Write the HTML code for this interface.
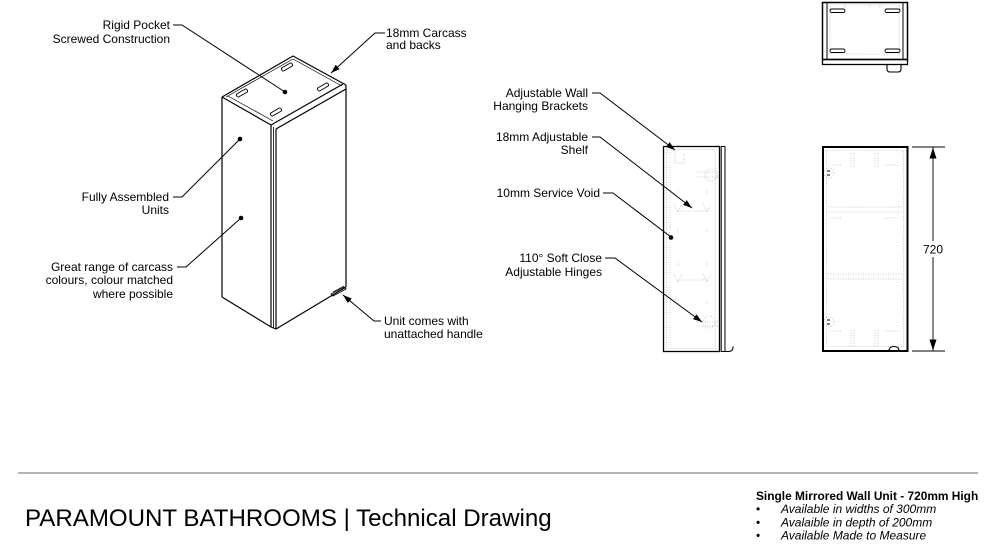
<!DOCTYPE html>
<html>
<head>
<meta charset="utf-8">
<style>
html,body{margin:0;padding:0;background:#fff;}
svg{display:block;}
text{font-family:"Liberation Sans",Arial,sans-serif;font-size:12px;fill:#000;}
</style>
</head>
<body>
<svg width="1000" height="547" viewBox="0 0 1000 547" xmlns="http://www.w3.org/2000/svg">
<defs>
<marker id="ar" markerWidth="9" markerHeight="6" refX="9" refY="3" orient="auto" markerUnits="userSpaceOnUse">
<path d="M0,0 L9,3 L0,6 z" fill="#000"/>
</marker>
<marker id="dimA" markerWidth="11" markerHeight="7" refX="11" refY="3.5" orient="auto" markerUnits="userSpaceOnUse">
<path d="M0,0 L11,3.5 L0,7 z" fill="#000"/>
</marker>
</defs>
<rect width="1000" height="547" fill="#fff"/>

<!-- ===== Isometric cabinet ===== -->
<g stroke="#000" stroke-width="1.2" fill="none" stroke-linejoin="round">
  <path d="M222,97 L293,56 L346,85"/>
  <path d="M226,97 L293,59 L342,86" stroke-width="0.7"/>
  <path d="M222,97 L271,125"/>
  <path d="M228,96 L273,121" stroke-width="0.7"/>
  <path d="M271,125 L343,84"/>
  <path d="M276,129 L346,89"/>
  <path d="M222,97 V297"/>
  <path d="M346,85 V287"/>
  <path d="M271,125 V327"/>
  <path d="M273.5,127 V328" stroke-width="0.8"/>
  <path d="M276,129 V329"/>
  <path d="M222,297 L271,327 L276,329 L346,287"/>
  <path d="M331,294 L344,287 L346,289 L333,296 z" stroke-width="0.9"/>
  <path d="M333,292 L344,286" stroke-width="0.7"/>
</g>
<g stroke="#000" stroke-width="0.9" fill="#fff">
  <rect x="-6" y="-1.8" width="12" height="3.6" rx="1.6" transform="translate(287,67) rotate(-30)"/>
  <rect x="-6" y="-1.8" width="12" height="3.6" rx="1.6" transform="translate(242,93) rotate(-30)"/>
  <rect x="-6" y="-1.8" width="12" height="3.6" rx="1.6" transform="translate(323,87) rotate(-30)"/>
  <rect x="-6" y="-1.8" width="12" height="3.6" rx="1.6" transform="translate(276,112) rotate(-30)"/>
</g>

<!-- ===== leaders left ===== -->
<g stroke="#000" stroke-width="1" fill="none">
  <path d="M173,25 H182 L285,92"/>
  <path d="M385,33 H375 L331,73" marker-end="url(#ar)"/>
  <path d="M173,197 H182 L240,139"/>
  <path d="M177,267 H186 L241,218"/>
  <path d="M381,321 H374 L343,295" marker-end="url(#ar)"/>
</g>
<g fill="#000">
  <circle cx="285" cy="92" r="2.3"/>
  <circle cx="240" cy="139" r="2.3"/>
  <circle cx="241" cy="218" r="2.3"/>
</g>

<g text-anchor="end">
  <text x="170" y="29">Rigid Pocket</text>
  <text x="170" y="43">Screwed Construction</text>
  <text x="169" y="201">Fully Assembled</text>
  <text x="169" y="214">Units</text>
  <text x="173" y="271">Great range of carcass</text>
  <text x="173" y="284">colours, colour matched</text>
  <text x="173" y="298">where possible</text>
</g>
<text x="386" y="37">18mm Carcass</text>
<text x="386" y="49">and backs</text>
<text x="384" y="325">Unit comes with</text>
<text x="384" y="338">unattached handle</text>

<!-- ===== Side view ===== -->
<g stroke="#bbb" stroke-width="0.8" fill="none" stroke-dasharray="1 1.5">
  <rect x="666.5" y="149.5" width="49" height="199"/>
  <path d="M670,152 V345"/>
  <path d="M675,150 V163 H684 V154"/>
  <path d="M697,172 H718 M697,177 H718 M697,322 H718 M697,326 H718"/>
  <circle cx="711" cy="175" r="6"/>
  <circle cx="709" cy="322" r="6"/>
  <path d="M678,211 H708 M678,280 H708"/>
  <path d="M674,204 L678,212 L682,204 M703,204 L707,212 L711,204"/>
  <path d="M674,274 L678,282 L682,274 M703,274 L707,282 L711,274"/>
  <path d="M678,190 V194 M707,190 V194 M678,228 V232 M707,228 V232 M678,262 V266 M707,262 V266 M707,300 V304 M678,300 V304"/>
</g>
<g stroke="#000" fill="none">
  <rect x="663.5" y="146.5" width="56" height="205" stroke-width="1.3"/>
  <rect x="721.2" y="146.5" width="3.8" height="205" stroke-width="1"/>
  <path d="M724,351.5 H729 Q733,351.5 733,346.5" stroke-width="1.1"/>
</g>

<g stroke="#000" stroke-width="1" fill="none">
  <path d="M592,93 H600 L675,150" marker-end="url(#ar)"/>
  <path d="M592,137 H600 L692,208" marker-end="url(#ar)"/>
  <path d="M603,193 H613 L671,237"/>
  <path d="M605,258 H615 L702,322" marker-end="url(#ar)"/>
</g>
<circle cx="671" cy="237.5" r="2.3" fill="#000"/>
<g text-anchor="end">
  <text x="588" y="97">Adjustable Wall</text>
  <text x="588" y="110">Hanging Brackets</text>
  <text x="588" y="141">18mm Adjustable</text>
  <text x="588" y="154">Shelf</text>
  <text x="600" y="197">10mm Service Void</text>
  <text x="602" y="262">110° Soft Close</text>
  <text x="602" y="276">Adjustable Hinges</text>
</g>

<!-- ===== Top view ===== -->
<g stroke="#bbb" stroke-width="0.8" fill="none" stroke-dasharray="1 1.5">
  <path d="M829,5 H900 M829,54 H900"/>
  <path d="M830,6 V56 M899,6 V56"/>
  <path d="M845,4 V8 M870,4 V8 M880,4 V8"/>
</g>
<g stroke="#000" fill="none">
  <rect x="822.5" y="2.5" width="85" height="57" stroke-width="1.5"/>
  <path d="M827,2.5 V59.5 M903,2.5 V59.5" stroke-width="1"/>
  <rect x="822.5" y="59.5" width="85" height="5" stroke-width="1.3"/>
  <path d="M887,64.5 V69 Q887,72 890,72 H898 Q901,72 901,69 V64.5" stroke-width="1.1"/>
</g>
<g stroke="#000" stroke-width="0.9" fill="#fff">
  <rect x="830" y="9" width="15" height="3.5" rx="1.7"/>
  <rect x="885" y="9" width="15" height="3.5" rx="1.7"/>
  <rect x="830" y="49" width="15" height="3.5" rx="1.7"/>
  <rect x="885" y="49" width="15" height="3.5" rx="1.7"/>
</g>

<!-- ===== Front view ===== -->
<g stroke="#bbb" stroke-width="0.8" fill="none" stroke-dasharray="1 1.5">
  <rect x="826.5" y="150.5" width="77" height="196"/>
  <path d="M828,207 H903 M828,212 H903 M828,274 H903 M828,279 H903"/>
  <path d="M851,153 V168 M854,153 V168 M875,153 V168 M878,153 V168"/>
  <path d="M851,330 V346 M854,330 V346 M875,330 V346 M878,330 V346"/>
  <path d="M830,165 H842 M885,165 H900 M830,218 H842 M885,218 H900 M830,331 H842 M885,331 H900"/>
  <circle cx="829" cy="173" r="5"/>
  <circle cx="829" cy="322" r="5"/>
</g>
<g stroke="#000" fill="none">
  <rect x="823" y="147" width="84.5" height="204" stroke-width="2"/>
  <path d="M889,351 Q889,346.5 894,346.5 Q899,346.5 899,351" stroke-width="1.1"/>
  <path d="M827,171 h3 M827,175 h3 M827,320 h3 M827,324 h3" stroke-width="0.9"/>
</g>
<g stroke="#000" stroke-width="0.9" fill="none">
  <path d="M912,147 H945 M912,351 H945"/>
  <path d="M933,249 V147.5" marker-end="url(#dimA)"/>
  <path d="M933,249 V350.5" marker-end="url(#dimA)"/>
</g>
<rect x="922" y="241" width="22" height="16" fill="#fff"/>
<text x="933" y="253.5" text-anchor="middle">720</text>

<!-- ===== Footer ===== -->
<line x1="18" y1="473" x2="978" y2="473" stroke="#888" stroke-width="1.3"/>
<text x="25" y="526" style="font-size:24.1px">PARAMOUNT BATHROOMS | Technical Drawing</text>
<text x="756" y="500" style="font-weight:bold;font-size:11.9px">Single Mirrored Wall Unit - 720mm High</text>
<g>
  <text x="756" y="513">•</text>
  <text x="756" y="526.5">•</text>
  <text x="756" y="539.5">•</text>
  <text x="781" y="513" style="font-style:italic">Available in widths of 300mm</text>
  <text x="781" y="526.5" style="font-style:italic">Avalaible in depth of 200mm</text>
  <text x="781" y="539.5" style="font-style:italic">Available Made to Measure</text>
</g>
</svg>
</body>
</html>
